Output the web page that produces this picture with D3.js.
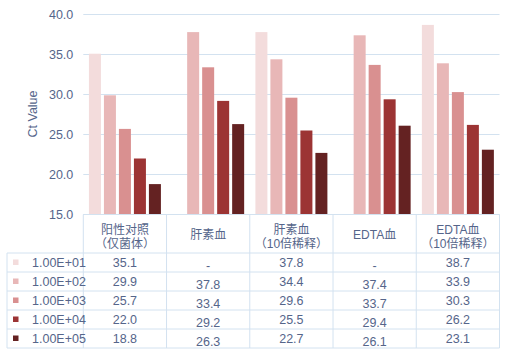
<!DOCTYPE html>
<html><head><meta charset="utf-8">
<script src="https://cdn.jsdelivr.net/npm/d3@7"></script>
<style>
html,body{margin:0;padding:0;background:#fff;}
svg{display:block;font-family:"Liberation Sans","Noto Sans CJK SC",sans-serif;}
</style></head>
<body><svg id="c" width="506" height="358"></svg>
<script>
const categories = [["阳性对照","（仅菌体）"],["肝素血"],["肝素血","（10倍稀释）"],["EDTA血"],["EDTA血","（10倍稀释）"]];
const seriesNames = ["1.00E+01","1.00E+02","1.00E+03","1.00E+04","1.00E+05"];
const e01 = [35.1, null, 37.8, null, 38.7];
const e02 = [29.9, 37.8, 34.4, 37.4, 33.9];
const e03 = [25.7, 33.4, 29.6, 33.7, 30.3];
const e04 = [22.0, 29.2, 25.5, 29.4, 26.2];
const e05 = [18.8, 26.3, 22.7, 26.1, 23.1];
const yTicks = [15, 20, 25, 30, 35, 40];
const colors = ["#f3dcdc","#e8b7b7","#d99090","#9c3434","#642222"];
const values = [e01, e02, e03, e04, e05];
const shiftedCols = [1, 3];

const svg = d3.select("#c");
const pLeft = 83.3, pRight = 499.5, pTop = 14.5, pBottom = 214.5;
const textCol = "#55658a", gridCol = "#d3e2f0";

const x0 = d3.scaleBand().domain(d3.range(categories.length)).range([pLeft, pRight]).padding(0);
const x1 = d3.scaleBand().domain(d3.range(seriesNames.length)).range([0, x0.bandwidth()]).paddingInner(0.2).paddingOuter(0.375);
const y = d3.scaleLinear().domain([15, 40]).range([pBottom, pTop]);

// grid
svg.append("g").selectAll("line").data(yTicks).join("line")
  .attr("x1", pLeft).attr("x2", pRight)
  .attr("y1", d => y(d)).attr("y2", d => y(d))
  .attr("stroke", gridCol).attr("stroke-width", 1);

// y axis labels
const yAxis = d3.axisLeft(y).tickValues(yTicks).tickFormat(d3.format(".1f")).tickSize(0).tickPadding(10);
const ya = svg.append("g").attr("transform", `translate(${pLeft},0)`).call(yAxis);
ya.select(".domain").remove();
ya.selectAll("text").attr("fill", textCol).attr("font-size", 12.5).attr("font-family", "Liberation Sans, sans-serif");

svg.append("text").attr("transform", `translate(37,114) rotate(-90)`)
  .attr("text-anchor", "middle").attr("fill", textCol).attr("font-size", 12.5)
  .text("Ct  Value");

// bars
const g = svg.append("g");
values.forEach((arr, si) => {
  g.selectAll(null).data(arr.map((v, ci) => ({v, ci})).filter(d => d.v != null)).join("rect")
    .attr("x", d => x0(d.ci) + x1(si))
    .attr("width", x1.bandwidth())
    .attr("y", d => y(d.v))
    .attr("height", d => y(15) - y(d.v))
    .attr("fill", colors[si]);
});

// table
const rowTop = 253, rowH = 19;
const tl = svg.append("g").attr("stroke", gridCol).attr("stroke-width", 1).attr("fill", "none");
tl.append("line").attr("x1", pLeft).attr("x2", pRight).attr("y1", pBottom).attr("y2", pBottom);
d3.range(seriesNames.length + 1).forEach(i => {
  const yy = rowTop + i * rowH;
  tl.append("line").attr("x1", 7).attr("x2", pRight).attr("y1", yy).attr("y2", yy);
});
d3.range(categories.length + 1).forEach(i => {
  const xx = i < categories.length ? x0(i) : pRight;
  tl.append("line").attr("x1", xx).attr("x2", xx).attr("y1", pBottom).attr("y2", rowTop + seriesNames.length * rowH);
});
tl.append("line").attr("x1", 7).attr("x2", 7).attr("y1", rowTop).attr("y2", rowTop + seriesNames.length * rowH);

// header
categories.forEach((lines, ci) => {
  const cx = x0(ci) + x0.bandwidth() / 2;
  const t = svg.append("text").attr("text-anchor", "middle").attr("fill", textCol).attr("font-size", 12);
  if (lines.length === 1) {
    t.append("tspan").attr("x", cx).attr("y", 239).text(lines[0]);
  } else {
    t.append("tspan").attr("x", cx).attr("y", 234).text(lines[0]);
    t.append("tspan").attr("x", cx).attr("y", 248).text(lines[1]);
  }
});

// legend rows + values
seriesNames.forEach((s, si) => {
  const cy = rowTop + si * rowH + rowH / 2;
  svg.append("rect").attr("x", 13).attr("y", cy - 3).attr("width", 5.5).attr("height", 5.5).attr("fill", colors[si]);
  svg.append("text").attr("x", 32).attr("y", cy + 4.5).attr("fill", textCol).attr("font-size", 12.5).text(s);
  values[si].forEach((v, ci) => {
    const off = shiftedCols.includes(ci) ? 2.5 : 0;
    svg.append("text").attr("x", x0(ci) + x0.bandwidth() / 2).attr("y", cy + 4.5 + off)
      .attr("text-anchor", "middle").attr("fill", textCol).attr("font-size", 12.5)
      .text(v == null ? "-" : v.toFixed(1));
  });
});
</script></body></html>
